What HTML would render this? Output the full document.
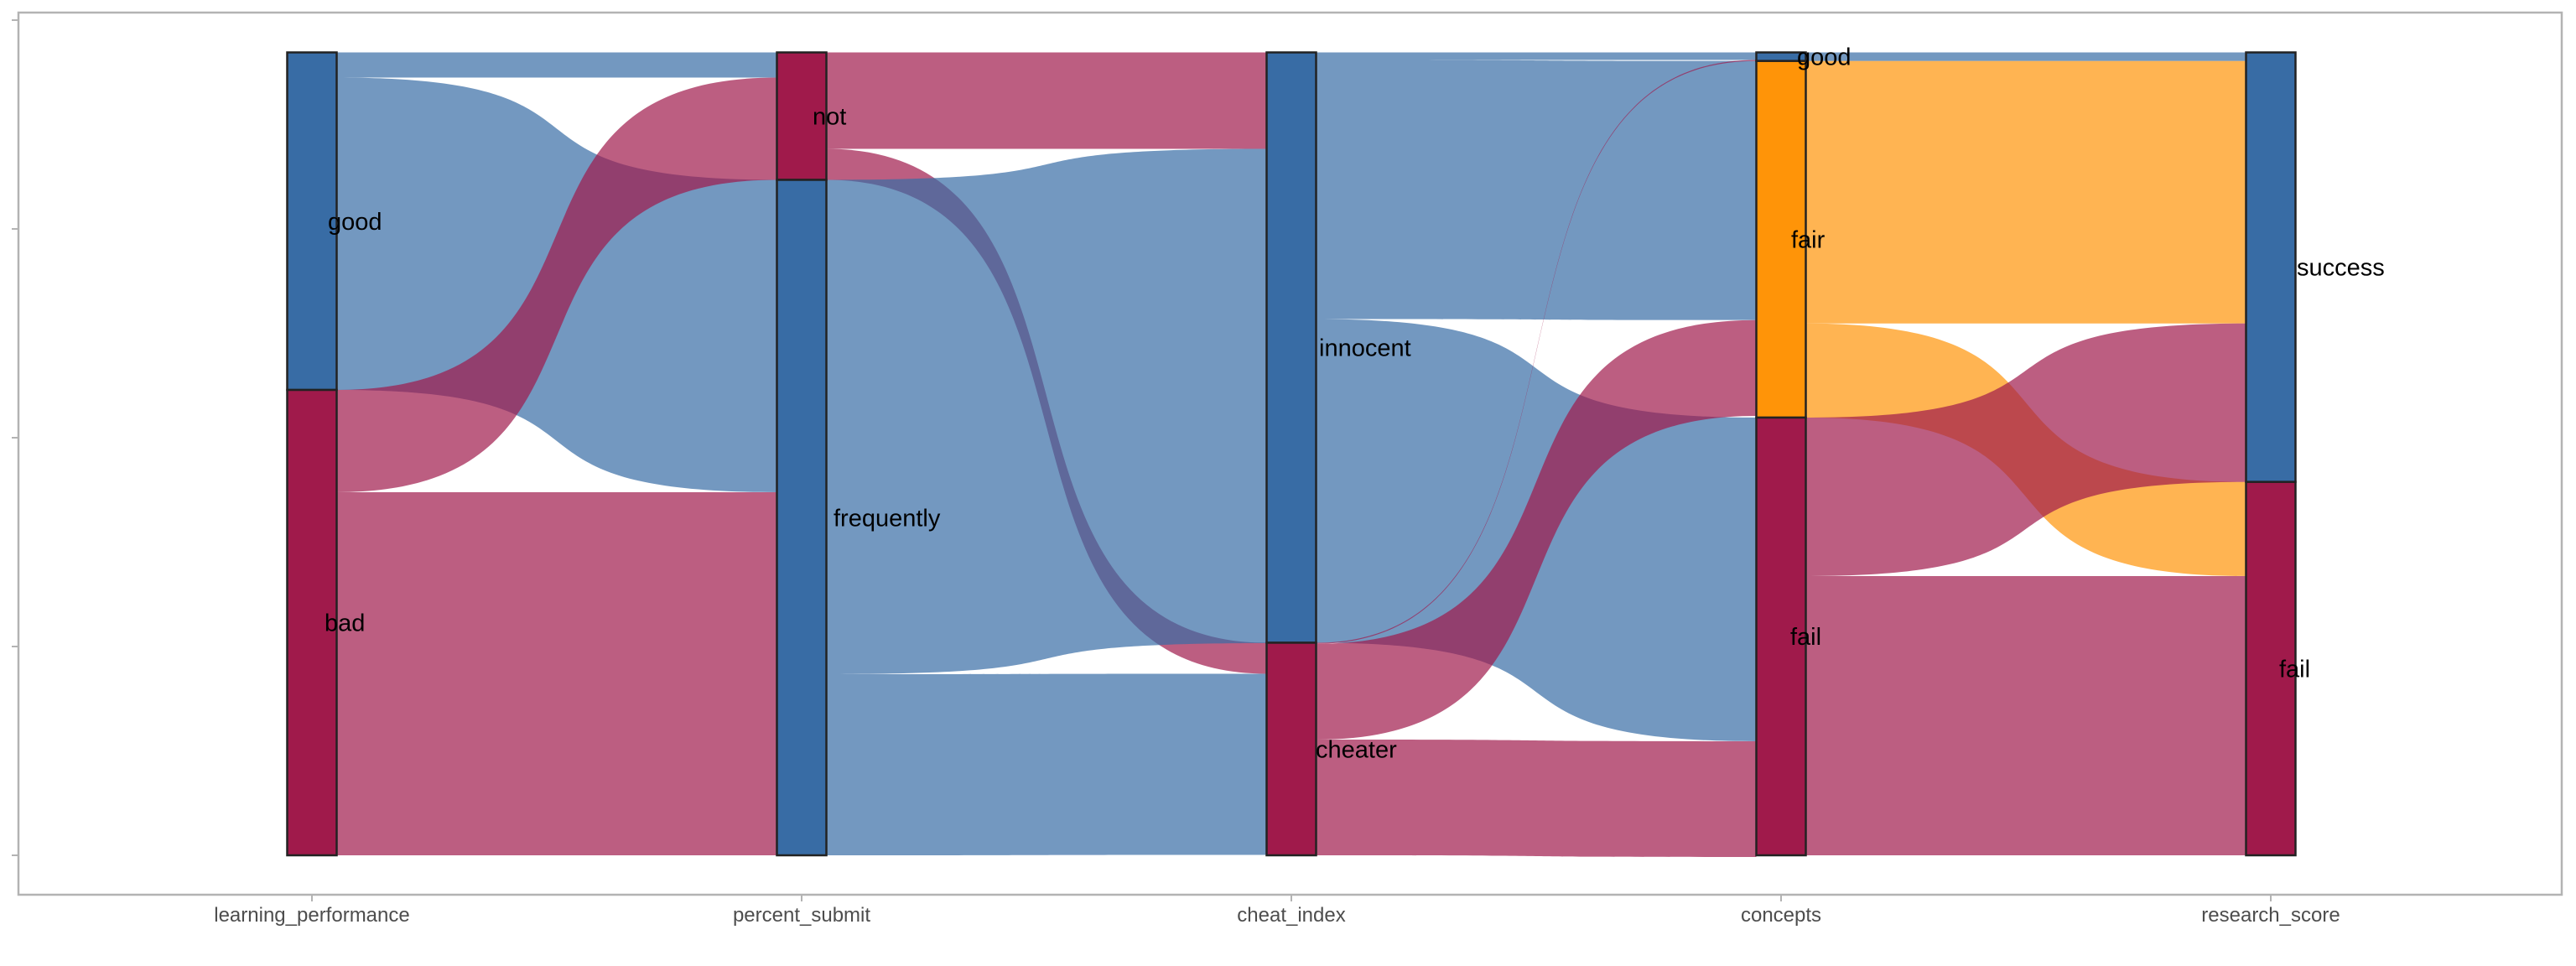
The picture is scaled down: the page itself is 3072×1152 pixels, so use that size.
<!DOCTYPE html>
<html><head><meta charset="utf-8"><style>
html,body{margin:0;padding:0;background:#fff;}
svg{display:block;font-family:"Liberation Sans",Arial,sans-serif;}
</style></head><body>
<svg id="chart" width="3072" height="1152" viewBox="0 0 3072 1152" xmlns="http://www.w3.org/2000/svg">
<rect x="22" y="15" width="3033" height="1052" fill="#fff" stroke="#b3b3b3" stroke-width="2.5"/>
<g id="flows"></g>
<g id="nodes"></g>
<g id="axis"></g>
</svg>
<script>
const axes = ["learning_performance","percent_submit","cheat_index","concepts","research_score"];
const strata = [
  [["good","b"],["bad","p"]],
  [["not","p"],["frequently","b"]],
  [["innocent","b"],["cheater","p"]],
  [["good","b"],["fair","o"],["fail","p"]],
  [["success","b"],["fail","p"]]
];
// flows between consecutive axes: [sourceIndex, targetIndex, value]
const flows0 = [[0,0,30],[0,1,372.5],[1,0,122],[1,1,433]];
const flows1 = [[0,0,115],[0,1,37],[1,0,589.5],[1,1,216]];
const flows2 = [[0,0,9],[0,1,309],[0,2,386],[1,0,1.2],[1,1,114.3],[1,2,138]];
const flows3 = [[0,0,10.2],[1,0,313],[1,1,112.3],[2,0,189],[2,1,333]];
const allFlows = [flows0,flows1,flows2,flows3];
const labelDx = [[19,15],[13,38],[33,29],[19,12,11],[31,10]];

const colN = {b:"#386CA5",p:"#A01A4B",o:"#FF9408"};
const xTick = i => 372 + i*584;
const yTop = 62.5, yBottom = 1020, nodeW = 59;
const total = flows0.reduce((s,f)=>s+f[2],0);
const ys = v => v*(yBottom-yTop)/total;
const NS="http://www.w3.org/2000/svg";
const gF=document.getElementById('flows'), gN=document.getElementById('nodes'), gA=document.getElementById('axis');

const nodeVals = strata.map(s=>s.map(()=>0));
for(let k=0;k<4;k++) allFlows[k].forEach(f=>{nodeVals[k][f[0]]+=f[2];});
allFlows[3].forEach(f=>{nodeVals[4][f[1]]+=f[2];});
const nodeY = nodeVals.map(v=>{let y=yTop;return v.map(x=>{const r=[y,y+ys(x)];y+=ys(x);return r;});});

for(let k=0;k<4;k++){
  const fl=allFlows[k];
  const outOff=nodeY[k].map(r=>r[0]);
  const inOff=nodeY[k+1].map(r=>r[0]);
  const srcPos={}, tgtPos={};
  fl.slice().sort((a,b)=>a[0]-b[0]||a[1]-b[1]).forEach(f=>{srcPos[f[0]+'-'+f[1]]=outOff[f[0]];outOff[f[0]]+=ys(f[2]);});
  fl.slice().sort((a,b)=>a[1]-b[1]||a[0]-b[0]).forEach(f=>{tgtPos[f[0]+'-'+f[1]]=inOff[f[1]];inOff[f[1]]+=ys(f[2]);});
  const x0=xTick(k)+nodeW/2, x1=xTick(k+1)-nodeW/2, w=x1-x0;
  const c1=x0+0.7*w, c2=x1-0.7*w;
  fl.forEach(f=>{
    const key=f[0]+'-'+f[1], h=ys(f[2]);
    const a=srcPos[key], b=tgtPos[key];
    const p=document.createElementNS(NS,'path');
    p.setAttribute('d',`M${x0},${a} C${c1},${a} ${c2},${b} ${x1},${b} L${x1},${b+h} C${c2},${b+h} ${c1},${a+h} ${x0},${a+h} Z`);
    p.setAttribute('fill',colN[strata[k][f[0]][1]]);
    p.setAttribute('fill-opacity','0.7');
    
    
    gF.appendChild(p);
  });
}
strata.forEach((s,k)=>s.forEach((st,j)=>{
  const [y0,y1]=nodeY[k][j];
  const r=document.createElementNS(NS,'rect');
  r.setAttribute('x',xTick(k)-nodeW/2);r.setAttribute('y',y0);
  r.setAttribute('width',nodeW);r.setAttribute('height',Math.max(y1-y0,0.5));
  r.setAttribute('fill',colN[st[1]]);r.setAttribute('stroke','#222');r.setAttribute('stroke-width','2.5');
  
  
  gN.appendChild(r);
}));
strata.forEach((s,k)=>s.forEach((st,j)=>{
  const [y0,y1]=nodeY[k][j];
  const t=document.createElementNS(NS,'text');
  t.setAttribute('x',xTick(k)+labelDx[k][j]);t.setAttribute('y',(y0+y1)/2+10);
  t.setAttribute('font-size','29');t.setAttribute('fill','#000');
  t.textContent=st[0];
  
  
  gN.appendChild(t);
}));
axes.forEach((a,k)=>{
  const l=document.createElementNS(NS,'line');
  l.setAttribute('x1',xTick(k));l.setAttribute('x2',xTick(k));l.setAttribute('y1',1067);l.setAttribute('y2',1075);
  l.setAttribute('stroke','#b3b3b3');l.setAttribute('stroke-width','2');
  
  
  gA.appendChild(l);
  const t=document.createElementNS(NS,'text');
  t.setAttribute('x',xTick(k));t.setAttribute('y',1099);t.setAttribute('text-anchor','middle');
  t.setAttribute('font-size','24');t.setAttribute('fill','#4d4d4d');
  t.textContent=a;
  
  
  gA.appendChild(t);
});
[24,273,522,771,1020].forEach(y=>{
  const l=document.createElementNS(NS,'line');
  l.setAttribute('x1',14);l.setAttribute('x2',22);l.setAttribute('y1',y);l.setAttribute('y2',y);
  l.setAttribute('stroke','#b3b3b3');l.setAttribute('stroke-width','2');
  
  
  gA.appendChild(l);
});
</script>
</body></html>
